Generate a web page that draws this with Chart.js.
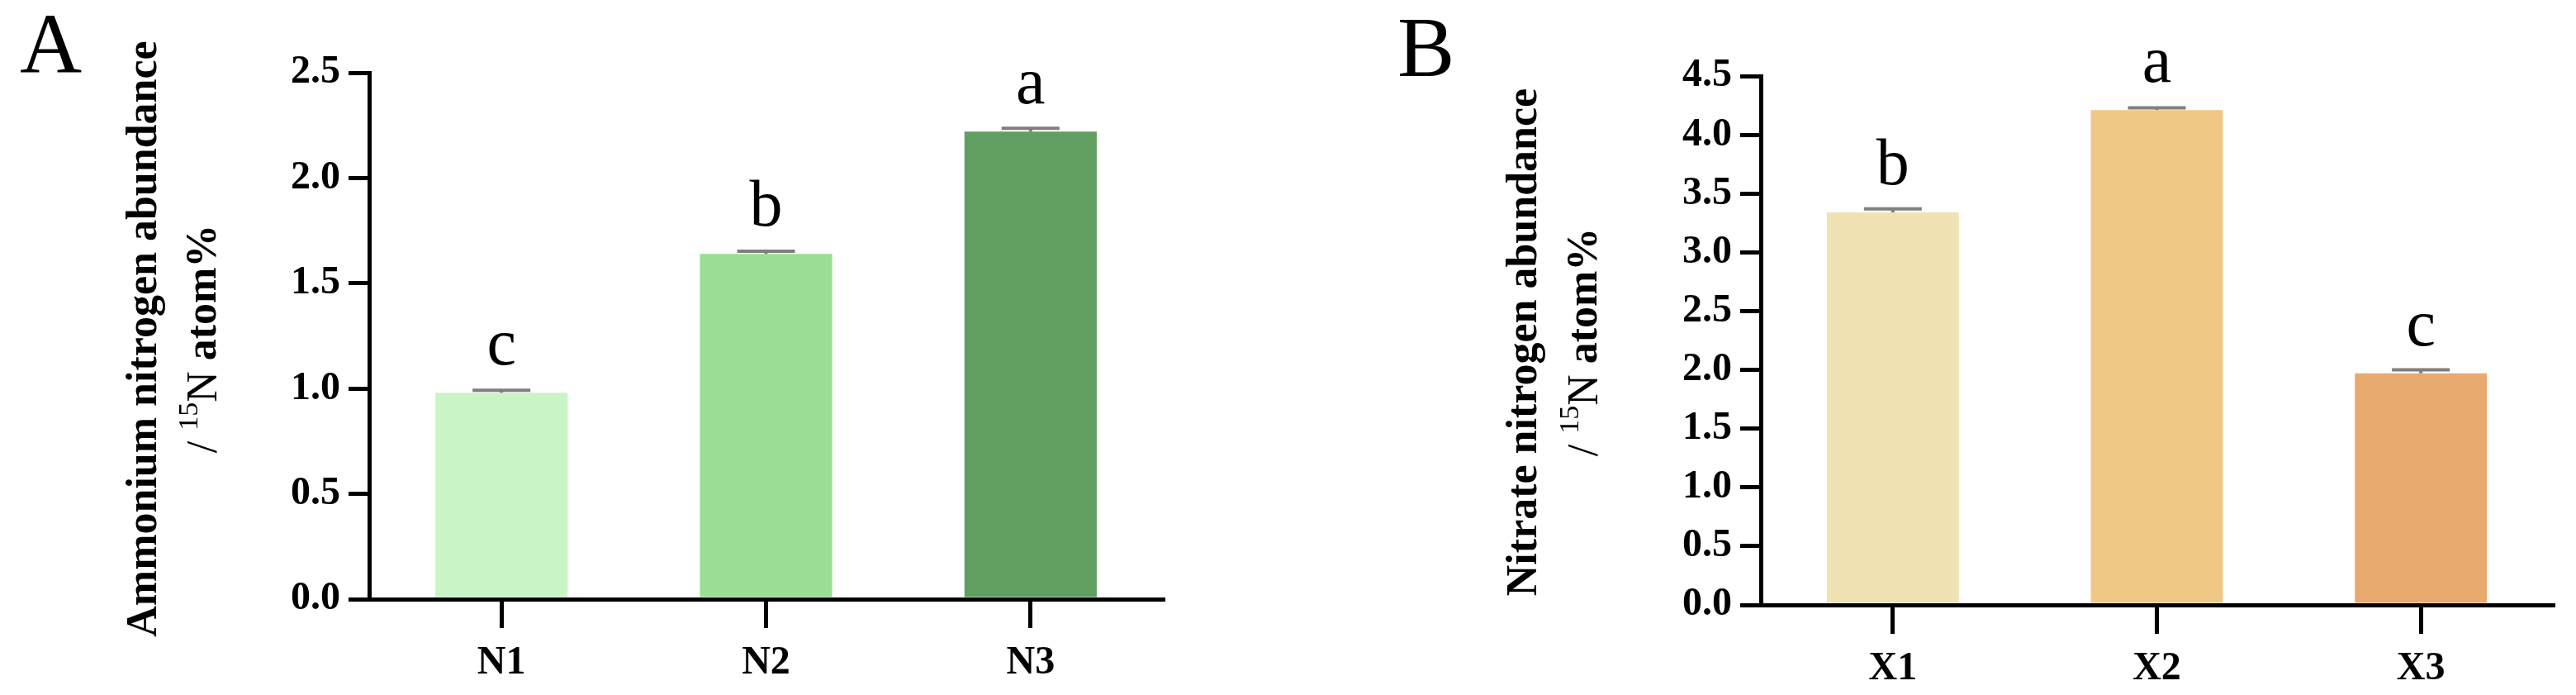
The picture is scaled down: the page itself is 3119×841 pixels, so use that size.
<!DOCTYPE html>
<html>
<head>
<meta charset="utf-8">
<script src="https://cdn.jsdelivr.net/npm/chart.js@4.4.1/dist/chart.umd.min.js"></script>
<style>
  html, body { margin: 0; padding: 0; background: #ffffff; }
  body { width: 3119px; height: 841px; position: relative; overflow: hidden; }
  .panel { position: absolute; top: 0; }
</style>
</head>
<body>
<div class="panel" style="left:0px;"><canvas id="chartA" width="1560" height="841"></canvas></div>
<div class="panel" style="left:1560px;"><canvas id="chartB" width="1559" height="841"></canvas></div>
<script>
// ---------- Data ----------
const categoriesA = ["N1", "N2", "N3"];
const valuesA = [0.98, 1.64, 2.22];
const errorsA = [0.012, 0.012, 0.016];
const lettersA = ["c", "b", "a"];
const colorsA = ["#c8f4c6", "#9ade96", "#619e62"];
const yTicksA = { min: 0, max: 2.5, step: 0.5 };
const titleA = ["Ammonium nitrogen abundance", "/ ", "15", "N ", "atom%"];

const categoriesB = ["X1", "X2", "X3"];
const valuesB = [3.34, 4.21, 1.97];
const errorsB = [0.03, 0.02, 0.03];
const lettersB = ["b", "a", "c"];
const colorsB = ["#f1e2b4", "#efc886", "#e9aa70"];
const yTicksB = { min: 0, max: 4.5, step: 0.5 };
const titleB = ["Nitrate nitrogen abundance", "/ ", "15", "N ", "atom%"];

const SERIF = '"Liberation Serif", "Times New Roman", serif';

// ---------- Plugins ----------
const errorBarPlugin = {
  id: 'errorBars',
  afterDatasetsDraw(chart, args, opts) {
    const ctx = chart.ctx;
    const meta = chart.getDatasetMeta(0);
    const yScale = chart.scales.y;
    const vals = chart.data.datasets[0].data;
    ctx.save();
    ctx.strokeStyle = opts.color;
    ctx.lineWidth = opts.lineWidth;
    ctx.lineCap = 'butt';
    meta.data.forEach((bar, i) => {
      const v = vals[i];
      const e = opts.errors[i];
      const yTop = yScale.getPixelForValue(v + e);
      const yVal = yScale.getPixelForValue(v);
      ctx.beginPath();
      ctx.moveTo(bar.x, yVal);
      ctx.lineTo(bar.x, yTop);
      ctx.moveTo(bar.x - opts.capWidth / 2, yTop);
      ctx.lineTo(bar.x + opts.capWidth / 2, yTop);
      ctx.stroke();
    });
    ctx.restore();
  }
};

const letterPlugin = {
  id: 'sigLetters',
  afterDatasetsDraw(chart, args, opts) {
    const ctx = chart.ctx;
    const meta = chart.getDatasetMeta(0);
    const yScale = chart.scales.y;
    const vals = chart.data.datasets[0].data;
    ctx.save();
    ctx.fillStyle = '#000';
    ctx.font = opts.font;
    ctx.textAlign = 'center';
    ctx.textBaseline = 'alphabetic';
    meta.data.forEach((bar, i) => {
      const y = yScale.getPixelForValue(vals[i]) - opts.gap;
      ctx.fillText(opts.letters[i], bar.x, y);
    });
    ctx.restore();
  }
};

const decorPlugin = {
  id: 'decor',
  afterDraw(chart, args, opts) {
    const ctx = chart.ctx;
    ctx.save();
    // panel letter
    ctx.fillStyle = '#000';
    ctx.font = '400 104px ' + SERIF;
    ctx.textAlign = 'left';
    ctx.textBaseline = 'alphabetic';
    ctx.fillText(opts.panel, opts.panelX, opts.panelY);

    // y-axis title, two rotated lines
    const t = opts.title;
    const yc = opts.titleY;
    // line 1
    ctx.save();
    ctx.translate(opts.line1X, yc);
    ctx.rotate(-Math.PI / 2);
    ctx.font = 'bold 52px ' + SERIF;
    ctx.textAlign = 'center';
    ctx.textBaseline = 'middle';
    ctx.fillText(t[0], 0, 0);
    ctx.restore();
    // line 2 with superscript
    const parts = [
      { s: t[1], f: '400 52px ' + SERIF, dy: 0 },
      { s: t[2], f: '400 34px ' + SERIF, dy: -18 },
      { s: t[3], f: '400 52px ' + SERIF, dy: 0 },
      { s: t[4], f: 'bold 52px ' + SERIF, dy: 0 }
    ];
    let total = 0;
    parts.forEach(p => { ctx.font = p.f; p.w = ctx.measureText(p.s).width; total += p.w; });
    ctx.save();
    ctx.translate(opts.line2X, yc);
    ctx.rotate(-Math.PI / 2);
    ctx.textAlign = 'left';
    ctx.textBaseline = 'middle';
    let x = -total / 2;
    parts.forEach(p => {
      ctx.font = p.f;
      ctx.fillText(p.s, x, p.dy);
      x += p.w;
    });
    ctx.restore();
    ctx.restore();
  }
};

function makeChart(id, cats, vals, errs, letters, colors, yt, title, geom) {
  return new Chart(document.getElementById(id), {
    type: 'bar',
    data: {
      labels: cats,
      datasets: [{
        data: vals,
        backgroundColor: colors,
        borderWidth: 0,
        categoryPercentage: 1.0,
        barPercentage: 0.5
      }]
    },
    options: {
      responsive: false,
      animation: false,
      devicePixelRatio: 1,
      layout: { padding: { left: 0, right: geom.padRight, top: geom.padTop, bottom: 0 } },
      plugins: {
        legend: { display: false },
        tooltip: { enabled: false },
        title: { display: false },
        errorBars: { errors: errs, color: '#7f7f7f', lineWidth: 4, capWidth: 70 },
        sigLetters: { letters: letters, font: '400 80px ' + SERIF, gap: 34 },
        decor: {
          panel: geom.panel, panelX: geom.panelX, panelY: geom.panelY,
          title: title, line1X: geom.line1X, line2X: geom.line2X, titleY: geom.titleY
        }
      },
      scales: {
        x: {
          z: 1,
          offset: true,
          grid: { display: true, drawOnChartArea: false, drawTicks: true, tickLength: 35, lineWidth: 5, color: '#000', offset: false },
          border: { display: true, width: 5, color: '#000' },
          ticks: { color: '#000', font: { family: SERIF, weight: 'bold', size: 48 }, padding: 14, maxRotation: 0 },
          afterFit: s => { s.height = geom.xHeight; }
        },
        y: {
          z: 1,
          min: yt.min, max: yt.max,
          grid: { display: true, drawOnChartArea: false, drawTicks: true, tickLength: 25, lineWidth: 5, color: '#000' },
          border: { display: true, width: 5, color: '#000' },
          ticks: {
            stepSize: yt.step, color: '#000', padding: 10,
            font: { family: SERIF, weight: 'bold', size: 48 },
            callback: v => Number(v).toFixed(1)
          },
          afterFit: s => { s.width = geom.yWidth; }
        }
      }
    },
    plugins: [errorBarPlugin, letterPlugin, decorPlugin]
  });
}

makeChart('chartA', categoriesA, valuesA, errorsA, lettersA, colorsA, yTicksA, titleA,
  { padRight: 152, padTop: 88, xHeight: 116, yWidth: 447, panel: 'A', panelX: 24, panelY: 88,
    line1X: 176, line2X: 248, titleY: 410 });
makeChart('chartB', categoriesB, valuesB, errorsB, lettersB, colorsB, yTicksB, titleB,
  { padRight: 28, padTop: 92, xHeight: 109, yWidth: 572, panel: 'B', panelX: 132, panelY: 92,
    line1X: 287, line2X: 360, titleY: 414 });
</script>
</body>
</html>
